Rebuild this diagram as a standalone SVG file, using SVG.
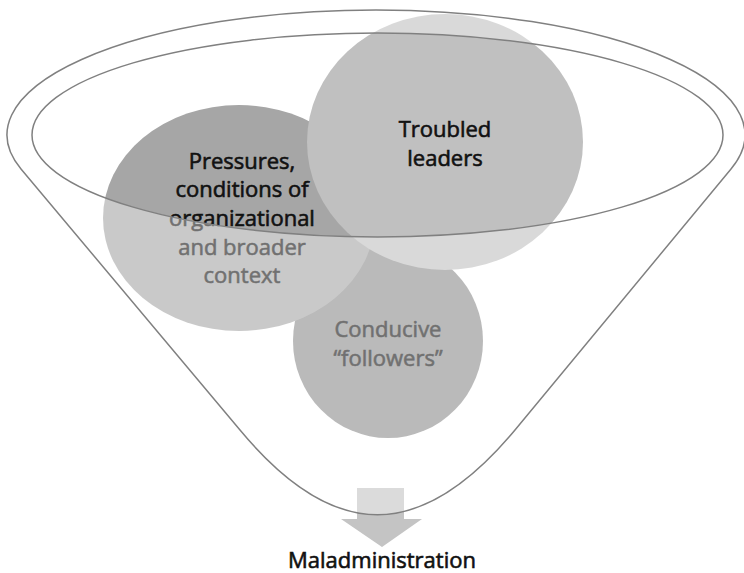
<svg xmlns="http://www.w3.org/2000/svg" width="744" height="573" viewBox="0 0 744 573">
<style>
.lbl{font-family:"Open Sans","Liberation Sans",sans-serif;font-size:22px;font-weight:500;fill:#111;stroke:#111;stroke-width:0.6;text-anchor:middle}
.line{fill:none;stroke:#808080;stroke-width:1.5}
.veil{fill:#fff;fill-opacity:0.4;fill-rule:evenodd}
</style>
<rect width="744" height="573" fill="#fff"/>
<g id="conducive-followers">
<ellipse cx="388" cy="341" rx="95" ry="97" fill="#8c8c8c"/>
<text class="lbl" x="388" y="337">Conducive</text>
<text class="lbl" x="388" y="366">“followers”</text>
</g>
<g id="pressures">
<ellipse cx="239" cy="218" rx="136" ry="113" fill="#a6a6a6"/>
<text class="lbl" x="242" y="168.5">Pressures,</text>
<text class="lbl" x="242" y="197.2">conditions of</text>
<text class="lbl" x="242" y="225.9">organizational</text>
<text class="lbl" x="242" y="254.6">and broader</text>
<text class="lbl" x="242" y="283.3">context</text>
</g>
<g id="troubled-leaders">
<ellipse cx="445" cy="142" rx="138" ry="128" fill="#c0c0c0"/>
<text class="lbl" x="445" y="137">Troubled</text>
<text class="lbl" x="445" y="166">leaders</text>
</g>
<g id="connectors">
<path d="M357,488 H404 V519 H422 L382,547 L341,519 H357 Z" fill="#c4c4c4"/>
</g>
<path class="veil" d="M240,430 L21,169 A369,125 0 1 1 731,169 L515,430 C421,543 334,543 240,430 Z M32,135 A345.5,102 0 1 0 723,135 A345.5,102 0 1 0 32,135 Z"/>
<g id="funnel">
<path class="line" d="M240,430 L21,169 A369,125 0 1 1 731,169 L515,430 C421,543 334,543 240,430 Z"/>
<ellipse class="line" cx="377.5" cy="135" rx="345.5" ry="102"/>
</g>
<g id="maladministration">
<text class="lbl" x="382" y="568">Maladministration</text>
</g>
</svg>
